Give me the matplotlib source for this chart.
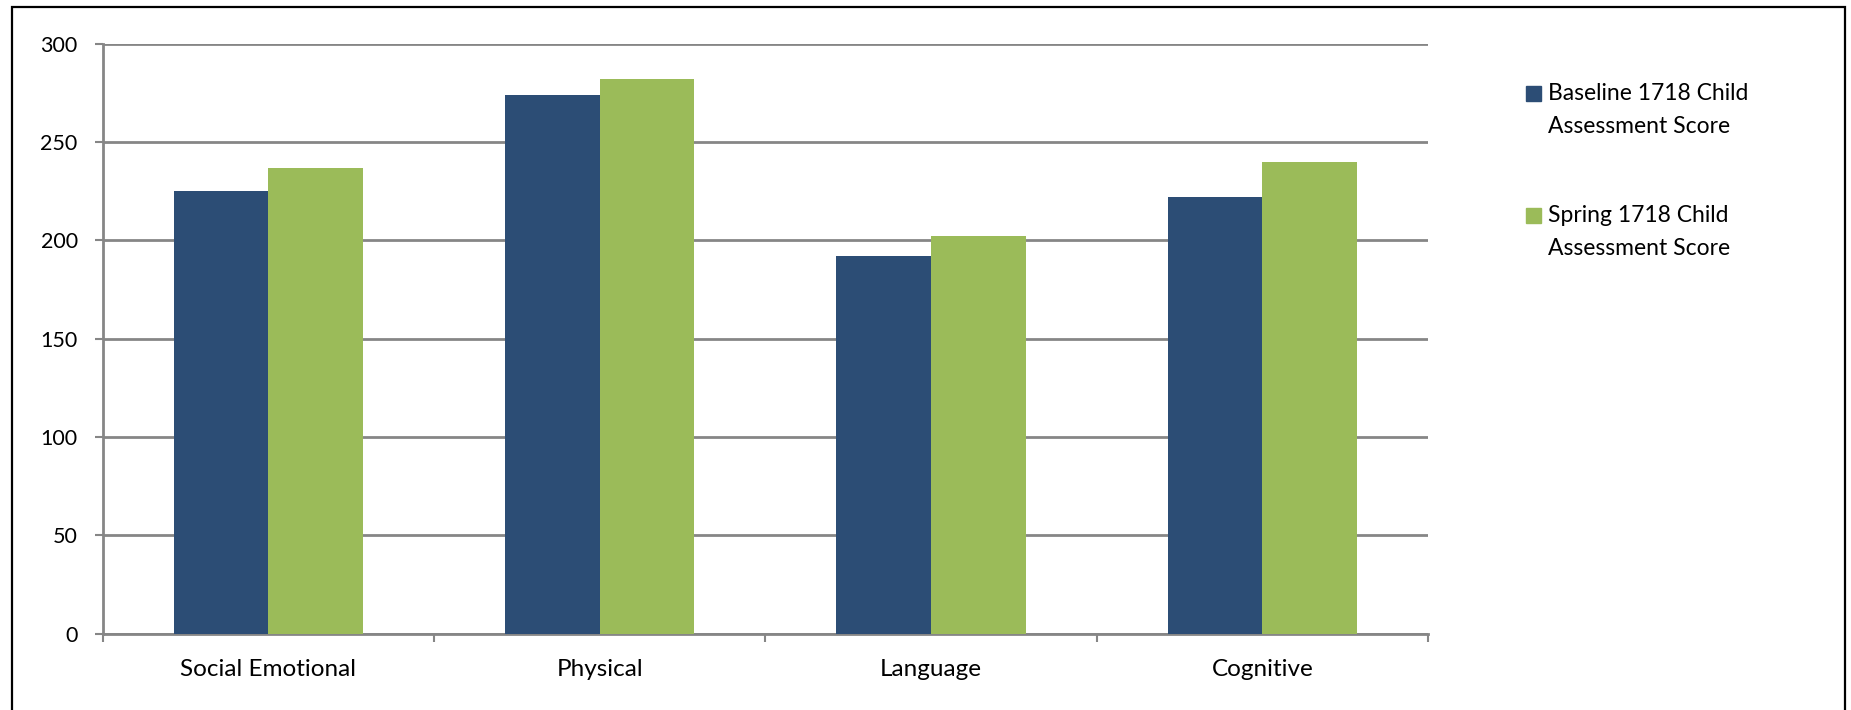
import numpy as np
import matplotlib.pyplot as plt
from matplotlib.patches import Rectangle

# Child assessment scores by domain
categories = ["Social Emotional", "Physical", "Language", "Cognitive"]
baseline = [225, 274, 192, 222]
spring = [237, 282, 202, 240]
series_labels = ["Baseline 1718 Child\nAssessment Score", "Spring 1718 Child\nAssessment Score"]
yticks = [0, 50, 100, 150, 200, 250, 300]

plt.rcParams['font.family'] = ['Lato', 'DejaVu Sans']

BLUE = "#2C4D75"
GREEN = "#9BBB59"
GRID = "#868686"
W, H = 1851, 710

fig = plt.figure(figsize=(W / 100, H / 100), dpi=100)
ax = fig.add_axes([0.0555, 0.1075, 0.716, 0.831])

x = np.arange(len(categories))
w = 1 / 3.5
bars = [ax.bar(x - w / 2, baseline, width=w, color=BLUE, zorder=3),
        ax.bar(x + w / 2, spring, width=w, color=GREEN, zorder=3)]

ax.set_xlim(-0.5, len(categories) - 0.5)
ax.set_ylim(0, 300)
ax.set_yticks(yticks)
ax.yaxis.grid(True, color=GRID, linewidth=2, zorder=0)
ax.set_axisbelow(True)

# category labels at centres, tick marks at boundaries
ax.set_xticks(x)
ax.set_xticklabels(categories, fontsize=17.5)
ax.set_xticks(np.arange(len(categories) + 1) - 0.5, minor=True)
ax.tick_params(axis='x', which='major', length=0, pad=18)
ax.tick_params(axis='x', which='minor', length=6, width=1.5, color=GRID)
ax.tick_params(axis='y', length=6, width=1.5, color=GRID, labelsize=15.5, pad=12)

for s in ["top", "right"]:
    ax.spines[s].set_visible(False)
for s in ["left", "bottom"]:
    ax.spines[s].set_color(GRID)
    ax.spines[s].set_linewidth(2)

# legend: square swatch lined up with the first text line
for i, (b, label) in enumerate(zip(bars, series_labels)):
    top = 86 + i * 122
    fig.patches.append(Rectangle((1526 / W, 1 - (top + 15) / H), 15 / W, 15 / H,
                                 transform=fig.transFigure,
                                 color=b.patches[0].get_facecolor()))
    fig.text(1548 / W, 1 - (top - 3) / H, label, fontsize=16.5,
             va="top", ha="left", linespacing=1.7)

# outer chart border
fig.patches.append(Rectangle((12 / W, -0.05), (1845 - 12) / W, 1 - 7 / H + 0.05,
                             transform=fig.transFigure, fill=False,
                             edgecolor="black", linewidth=1.6))

plt.savefig("out.png", dpi=100)
